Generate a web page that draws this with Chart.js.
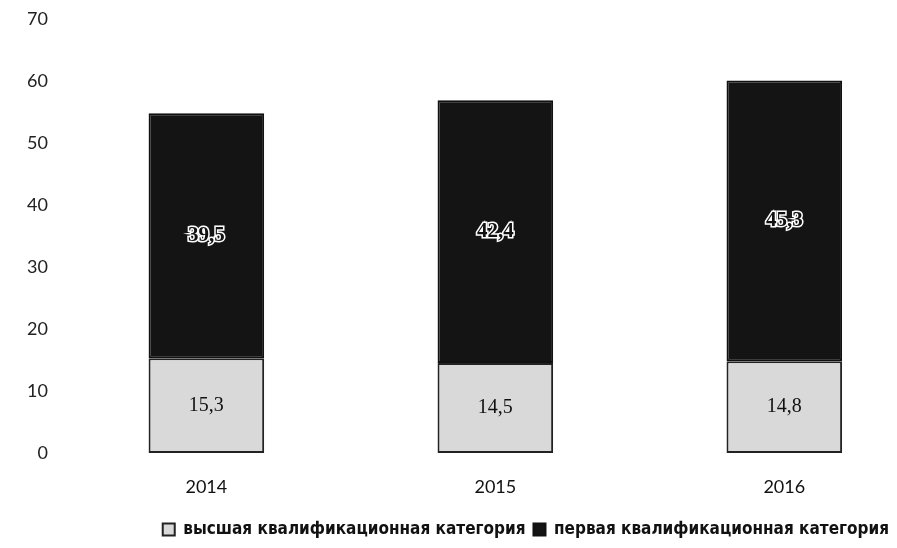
<!DOCTYPE html>
<html>
<head>
<meta charset="utf-8">
<script src="https://cdn.jsdelivr.net/npm/chart.js@4/dist/chart.umd.min.js"></script>
<style>
  html, body { margin: 0; padding: 0; background: #fff; overflow: hidden; }
  #wrap { width: 897px; height: 548px; }
</style>
</head>
<body>
<div id="wrap"><canvas id="chartCat"></canvas></div>
<script>
var years = ['2014', '2015', '2016'];
var seriesNames = ['высшая квалификационная категория', 'первая квалификационная категория'];
var highest = [15.3, 14.5, 14.8];
var first = [39.5, 42.4, 45.3];
var yTicks = [0, 10, 20, 30, 40, 50, 60, 70];

var toPoints = function (arr) {
     return arr.map(function (v, i) { return {x: i, y: v}; });
}
var fmt = function (v) {
     return String(v).replace('.', ',');
}

// values written in the middle of every segment
var segLabels = {
     id: 'segLabels',
     afterDatasetsDraw: function (chart) {
          var ctx = chart.ctx;
          chart.data.datasets.forEach(function (ds, di) {
               var meta = chart.getDatasetMeta(di);
               meta.data.forEach(function (bar, i) {
                    var cy = (bar.y + bar.base) / 2;
                    ctx.save();
                    ctx.textAlign = 'center';
                    ctx.textBaseline = 'middle';
                    if (di === 0) {
                         ctx.font = '20px "Liberation Serif"';
                         ctx.fillStyle = '#111';
                         ctx.fillText(fmt(ds.data[i].y), bar.x, cy);
                    } else {
                         ctx.font = 'bold 21px "Liberation Serif"';
                         ctx.lineWidth = 3;
                         ctx.strokeStyle = '#fff';
                         ctx.strokeText(fmt(ds.data[i].y), bar.x, cy);
                         ctx.fillStyle = '#111';
                         ctx.fillText(fmt(ds.data[i].y), bar.x, cy);
                    }
                    ctx.restore();
               });
          });
     }
};

var config = {
     type: 'bar',
     data: {
          datasets: [{
               label: seriesNames[0],
               data: toPoints(highest),
               backgroundColor: '#d9d9d9',
               borderColor: '#222',
               borderWidth: 2,
               borderSkipped: false
          }, {
               label: seriesNames[1],
               data: toPoints(first),
               backgroundColor: '#141414',
               borderColor: '#111',
               borderWidth: 2,
               borderSkipped: false
          }]
     },
     options: {
          responsive: true,
          maintainAspectRatio: false,
          animation: false,
          layout: {
               padding: {top: 19, left: 21, right: 0, bottom: 0}
          },
          datasets: {
               bar: {barPercentage: 0.4, categoryPercentage: 1}
          },
          scales: {
               x: {
                    type: 'linear',
                    stacked: true,
                    offset: false,
                    min: -0.5,
                    max: 2.39,
                    grid: {display: false, drawTicks: false, offset: false},
                    border: {display: false},
                    afterBuildTicks: function (axis) {
                         axis.ticks = years.map(function (y, i) { return {value: i}; });
                    },
                    afterFit: function (axis) {
                         axis.height = 60;
                    },
                    ticks: {
                         padding: 23,
                         color: '#111',
                         font: {family: 'Lato', size: 18},
                         callback: function (v) { return years[v]; }
                    }
               },
               y: {
                    stacked: true,
                    min: 0,
                    max: 70,
                    grid: {display: false},
                    border: {display: false},
                    afterBuildTicks: function (axis) {
                         axis.ticks = yTicks.map(function (v) { return {value: v}; });
                    },
                    ticks: {
                         padding: 6,
                         color: '#222',
                         font: {family: 'Lato', size: 18}
                    }
               }
          },
          plugins: {
               legend: {
                    position: 'bottom',
                    align: 'end',
                    labels: {
                         boxWidth: 12,
                         boxHeight: 12,
                         padding: 8,
                         color: '#111',
                         font: {family: 'DejaVu Sans Condensed', size: 17, weight: 'bold'}
                    }
               },
               tooltip: {enabled: false}
          }
     },
     plugins: [segLabels]
};

window.onload = function() {
     var ctx = document.getElementById("chartCat").getContext("2d");
     window.myBars = new Chart(ctx, config);
};
</script>
</body>
</html>
